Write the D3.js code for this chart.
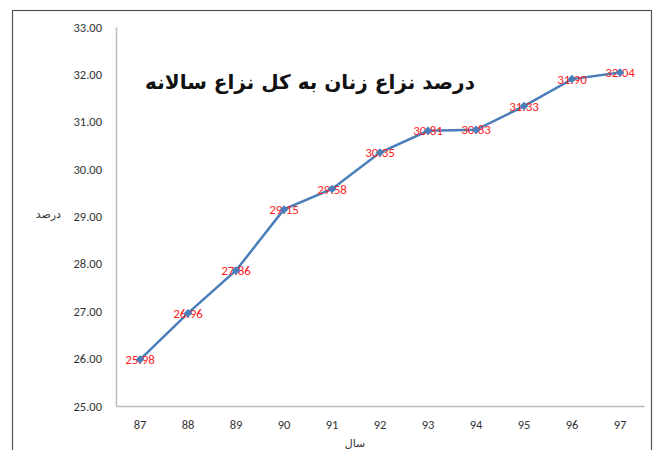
<!DOCTYPE html>
<html>
<head>
<meta charset="utf-8">
<script src="https://cdn.jsdelivr.net/npm/d3@7"></script>
<style>
  body { margin: 0; background: #fff; }
  svg { display: block; }
</style>
</head>
<body>
<div id="chart"></div>
<script>
// chart data
var years = ["87", "88", "89", "90", "91", "92", "93", "94", "95", "96", "97"];
var percents = [25.98, 26.96, 27.86, 29.15, 29.58, 30.35, 30.81, 30.83, 31.33, 31.90, 32.04];
var yTicks = [25, 26, 27, 28, 29, 30, 31, 32, 33];

var W = 654, H = 450;
var margin = {top: 27, right: 10, bottom: 44, left: 116},
    width = 644 - margin.left,
    height = 406 - margin.top;

var svg = d3.select("#chart").append("svg")
    .attr("width", W)
    .attr("height", H);

// outer frame
svg.append("rect")
  .attr("x", 12.5).attr("y", 10.5)
  .attr("width", 639).attr("height", 460)
  .attr("fill", "none")
  .attr("stroke", "#555")
  .attr("stroke-width", 1.2);

var g = svg.append("g")
  .attr("transform", "translate(" + margin.left + "," + margin.top + ")");

var x = d3.scaleBand()
  .domain(years)
  .range([0, width]);

var y = d3.scaleLinear()
  .domain([25, 33])
  .range([height, 0]);

// y axis
var yAxis = g.append("g")
  .call(d3.axisLeft(y).tickValues(yTicks).tickSize(0).tickPadding(14)
    .tickFormat(function(d) { return d3.format(".2f")(d); }));
yAxis.select(".domain").attr("stroke", "#bbb").attr("stroke-width", 1.5);
yAxis.selectAll("text")
  .attr("font-family", "Calibri, 'Liberation Sans', Arial, sans-serif")
  .attr("font-size", "12.5px")
  .attr("fill", "#333");

// x axis
var xAxis = g.append("g")
  .attr("transform", "translate(0," + height + ")")
  .call(d3.axisBottom(x).tickSize(0).tickPadding(14));
xAxis.select(".domain").attr("stroke", "#bbb").attr("stroke-width", 1.5);
xAxis.selectAll("text")
  .attr("font-family", "Calibri, 'Liberation Sans', Arial, sans-serif")
  .attr("font-size", "12.5px")
  .attr("fill", "#333");

// axis titles
svg.append("text")
  .text("درصد")
  .attr("x", 61).attr("y", 218)
  .attr("text-anchor", "end")
  .attr("font-family", "'DejaVu Sans', sans-serif")
  .attr("font-size", "11px")
  .attr("fill", "#333");

svg.append("text")
  .text("سال")
  .attr("x", 355).attr("y", 447)
  .attr("text-anchor", "middle")
  .attr("font-family", "'DejaVu Sans', sans-serif")
  .attr("font-size", "11px")
  .attr("fill", "#333");

// chart title
svg.append("text")
  .text("درصد نزاع زنان به کل نزاع سالانه")
  .attr("x", 310).attr("y", 89)
  .attr("text-anchor", "middle")
  .attr("font-family", "'DejaVu Sans', sans-serif")
  .attr("font-weight", "bold")
  .attr("font-size", "20px")
  .attr("fill", "#111");

// line
var line = d3.line()
  .x(function(d, i) { return x(years[i]) + x.bandwidth() / 2; })
  .y(function(d) { return y(d); });

g.append("path")
  .datum(percents)
  .attr("d", line)
  .attr("fill", "none")
  .attr("stroke", "#4a7ebb")
  .attr("stroke-width", 2.5);

// data labels
g.selectAll(".lbl")
  .data(percents)
  .enter().append("text")
  .attr("class", "lbl")
  .text(function(d) { return d3.format(".2f")(d); })
  .attr("x", function(d, i) { return x(years[i]) + x.bandwidth() / 2; })
  .attr("y", function(d) { return y(d) + 4.5; })
  .attr("text-anchor", "middle")
  .attr("font-family", "Calibri, 'Liberation Sans', Arial, sans-serif")
  .attr("font-size", "13px")
  .attr("fill", "#ff2020");

// markers (rotated squares)
g.selectAll(".dot")
  .data(percents)
  .enter().append("path")
  .attr("class", "dot")
  .attr("d", d3.symbol().type(d3.symbolSquare).size(36))
  .attr("transform", function(d, i) {
    return "translate(" + (x(years[i]) + x.bandwidth() / 2) + "," + y(d) + ") rotate(45)";
  })
  .attr("fill", "#4a7ebb");
</script>
</body>
</html>
